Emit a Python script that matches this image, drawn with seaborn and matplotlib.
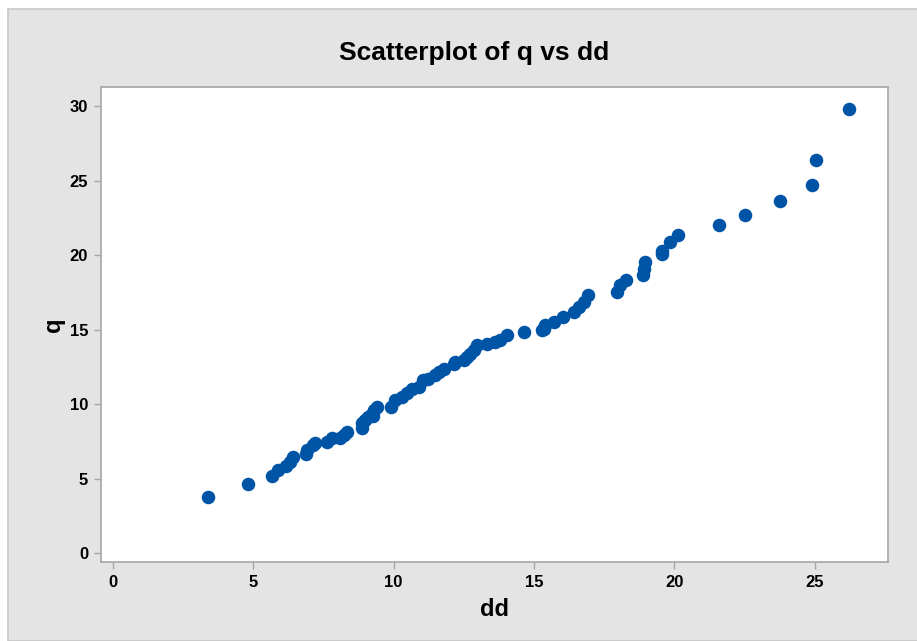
import numpy as np
import pandas as pd
import matplotlib.pyplot as plt
import matplotlib.patches as patches
import seaborn as sns

dd = [3.40, 4.82, 5.67, 5.89, 6.17, 6.31, 6.43, 6.87, 6.90, 7.12, 7.20, 7.62, 7.80,
      8.09, 8.24, 8.33, 8.87, 8.87, 8.98, 9.10, 9.22, 9.26, 9.30, 9.40, 9.90, 10.05,
      10.29, 10.47, 10.65, 10.89, 11.06, 11.24, 11.48, 11.60, 11.78, 12.14, 12.20,
      12.49, 12.61, 12.73, 12.85, 12.97, 13.32, 13.62, 13.80, 14.04, 14.63, 15.28,
      15.34, 15.40, 15.70, 16.05, 16.41, 16.59, 16.77, 16.94, 17.96, 18.07, 18.29,
      18.88, 18.91, 18.97, 19.56, 19.56, 19.83, 20.12, 21.60, 22.52, 23.77, 24.92,
      25.03, 26.23]
q = [3.74, 4.63, 5.19, 5.57, 5.88, 6.13, 6.42, 6.64, 6.91, 7.23, 7.36, 7.45, 7.70,
     7.70, 7.92, 8.14, 8.37, 8.75, 8.97, 9.15, 9.37, 9.19, 9.60, 9.78, 9.82, 10.27,
     10.49, 10.76, 10.99, 11.16, 11.61, 11.72, 11.95, 12.17, 12.39, 12.73, 12.84,
     12.95, 13.17, 13.40, 13.62, 13.96, 14.07, 14.18, 14.30, 14.63, 14.85, 14.97,
     15.08, 15.30, 15.52, 15.86, 16.20, 16.53, 16.87, 17.32, 17.54, 17.99, 18.36,
     18.66, 19.10, 19.55, 20.11, 20.30, 20.89, 21.38, 22.06, 22.71, 23.62, 24.72,
     26.42, 29.80]

data = pd.DataFrame({"dd": dd, "q": q})

sns.set_style("white")
plt.rcParams['font.family'] = ['Liberation Sans Narrow', 'Liberation Sans', 'DejaVu Sans']
plt.rcParams['text.color'] = "black"

fig = plt.figure(figsize=(9.17, 6.41), dpi=100)
fig.patch.set_facecolor("white")
# grey panel behind the graph
fig.patches.append(patches.Rectangle((8 / 917, 0), 1, 1 - 9 / 641, transform=fig.transFigure,
                                     facecolor="#e4e4e4", edgecolor="#c8c8c8", lw=1.2, zorder=-10))

ax = fig.add_axes([0.1097, 0.1232, 0.8583, 0.7411])
ax.set_facecolor("white")
sns.scatterplot(data=data, x="dd", y="q", ax=ax, color="#0054a6", s=95,
                edgecolor="#0054a6", linewidth=0, zorder=3)

ax.set_xlim(-0.44, 27.6)
ax.set_ylim(-0.6, 31.3)
ax.set_xticks([0, 5, 10, 15, 20, 25])
ax.set_yticks([0, 5, 10, 15, 20, 25, 30])
for s in ax.spines.values():
    s.set_color("#a6a6a6")
    s.set_linewidth(1.2)
ax.tick_params(axis="both", direction="out", length=5, width=1, color="#a6a6a6",
               labelcolor="black", labelsize=12, pad=4, bottom=True, left=True)
for lab in ax.get_xticklabels() + ax.get_yticklabels():
    lab.set_fontweight("bold")

ax.set_xlabel("dd", fontsize=17, fontweight="bold", labelpad=6, color="black")
ax.set_ylabel("q", fontsize=17, fontweight="bold", labelpad=3, color="black")
fig.text(0.517, 0.918, "Scatterplot of q vs dd", ha="center", va="center",
         fontsize=19, fontweight="bold", color="black")

plt.savefig("out.png", dpi=100)
